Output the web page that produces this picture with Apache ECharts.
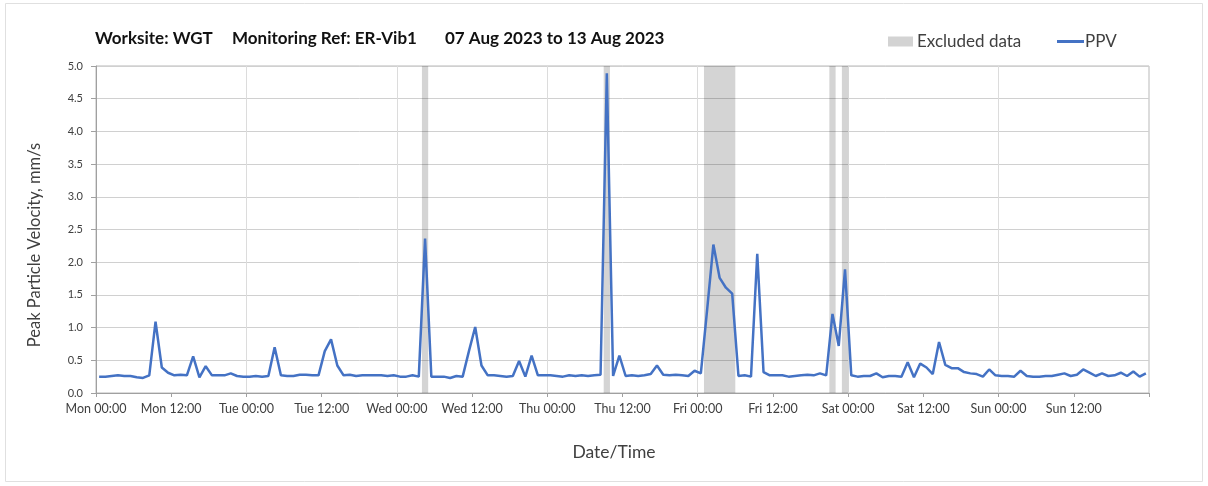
<!DOCTYPE html>
<html>
<head>
<meta charset="utf-8">
<script src="https://cdn.jsdelivr.net/npm/echarts@6/dist/echarts.min.js"></script>
<style>
  html, body { margin: 0; padding: 0; background: #ffffff; }
  #chart { width: 1208px; height: 486px; }
</style>
</head>
<body>
<div id="chart"></div>
<script>
// Hourly PPV readings (mm/s), one array per day, Mon 07 Aug 2023 .. Sun 13 Aug 2023
const monPPV = [0.25,0.25,0.26,0.27,0.26,0.26,0.24,0.23,0.27,1.09,0.39,0.31,0.27,0.28,0.27,0.56,0.24,0.41,0.27,0.27,0.27,0.30,0.26,0.25];
const tuePPV = [0.25,0.26,0.25,0.26,0.70,0.27,0.26,0.26,0.28,0.28,0.27,0.27,0.64,0.82,0.42,0.27,0.28,0.26,0.27,0.27,0.27,0.27,0.26,0.27];
const wedPPV = [0.25,0.25,0.27,0.25,2.36,0.25,0.25,0.25,0.23,0.26,0.25,0.64,1.01,0.42,0.27,0.27,0.26,0.25,0.26,0.49,0.25,0.57,0.27,0.27];
const thuPPV = [0.27,0.26,0.25,0.27,0.26,0.27,0.26,0.27,0.28,4.89,0.26,0.57,0.26,0.27,0.26,0.27,0.29,0.42,0.28,0.27,0.28,0.27,0.26,0.34];
const friPPV = [0.30,1.27,2.27,1.76,1.61,1.52,0.26,0.27,0.25,2.13,0.32,0.27,0.27,0.27,0.25,0.26,0.27,0.28,0.27,0.30,0.27,1.21,0.72,1.89];
const satPPV = [0.27,0.25,0.26,0.26,0.30,0.24,0.26,0.26,0.25,0.47,0.24,0.45,0.39,0.29,0.78,0.43,0.38,0.38,0.32,0.30,0.29,0.25,0.36,0.27];
const sunPPV = [0.26,0.26,0.25,0.34,0.26,0.25,0.25,0.26,0.26,0.28,0.30,0.26,0.28,0.36,0.31,0.26,0.30,0.26,0.27,0.31,0.26,0.33,0.25,0.30];

// Readings are hourly averages, plotted at the middle of each hour (hours since Mon 00:00)
const readingOffsetHours = 0.5;

// Excluded data periods [start, end] in hours since Mon 00:00
const excludedPeriods = [[52,53],[81,82],[97,102],[117,118],[119,120]];

// x-axis tick labels every 12 hours
const tickLabels = ['Mon 00:00','Mon 12:00','Tue 00:00','Tue 12:00','Wed 00:00','Wed 12:00','Thu 00:00','Thu 12:00','Fri 00:00','Fri 12:00','Sat 00:00','Sat 12:00','Sun 00:00','Sun 12:00'];

const titleParts = ['Worksite: WGT','Monitoring Ref: ER-Vib1','07 Aug 2023 to 13 Aug 2023'];

const allPPV = [].concat(monPPV, tuePPV, wedPPV, thuPPV, friPPV, satPPV, sunPPV);
const ppvData = allPPV.map((v, i) => [i + readingOffsetHours, v]);

const FONT = 'Lato';
const TXT = '#404040';
const titleStyle = { fontFamily: FONT, fontWeight: 'bold', fontSize: 17, color: '#111' };

const chart = echarts.init(document.getElementById('chart'));
chart.setOption({
  backgroundColor: '#ffffff',
  animation: false,
  title: [
    { text: titleParts[0], left: 95, top: 30, padding: 0, textStyle: titleStyle },
    { text: titleParts[1], left: 232, top: 30, padding: 0, textStyle: titleStyle },
    { text: titleParts[2], left: 445, top: 30, padding: 0, textStyle: titleStyle }
  ],
  legend: [
    {
      left: 888, top: 33, padding: 0,
      itemWidth: 25, itemHeight: 10,
      textStyle: { fontFamily: FONT, fontSize: 17, color: TXT, padding: [0, 0, 0, -1] },
      data: [ { name: 'Excluded data', icon: 'rect' } ]
    },
    {
      left: 1057, top: 33, padding: 0,
      itemWidth: 27, itemHeight: 3,
      textStyle: { fontFamily: FONT, fontSize: 17, color: TXT, padding: [0, 0, 0, -4] },
      data: [ { name: 'PPV', icon: 'rect', itemStyle: { color: '#4472c4' } } ]
    }
  ],
  grid: {
    left: 96, right: 59, top: 66, bottom: 93,
    show: true, borderColor: '#b8b8b8', borderWidth: 1, backgroundColor: 'transparent'
  },
  xAxis: [
    {
      type: 'value', min: 0, max: 168, interval: 12,
      axisLine: { show: true, onZero: false, lineStyle: { color: '#a0a0a0', width: 1 } },
      axisTick: { show: true, length: 4, lineStyle: { color: '#a0a0a0' } },
      axisLabel: { fontFamily: FONT, fontSize: 12.5, color: TXT, margin: 9,
        formatter: v => tickLabels[Math.round(v / 12)] || '' },
      splitLine: { show: false }
    },
    {
      type: 'value', min: 0, max: 168, interval: 24, position: 'bottom',
      axisLine: { show: false }, axisTick: { show: false }, axisLabel: { show: false },
      splitLine: { show: true, lineStyle: { color: '#dcdcdc', width: 1 } }
    }
  ],
  yAxis: {
    type: 'value', min: 0, max: 5, interval: 0.5,
    axisLine: { show: true, lineStyle: { color: '#a0a0a0', width: 1 } },
    axisTick: { show: true, length: 5, lineStyle: { color: '#a0a0a0' } },
    axisLabel: { fontFamily: FONT, fontSize: 11, color: TXT, margin: 13,
      formatter: v => v.toFixed(1) },
    splitLine: { show: true, lineStyle: { color: '#d0d0d0', width: 1 } }
  },
  graphic: [
    { type: 'rect', shape: { x: 5.5, y: 3.5, width: 1197, height: 478 },
      style: { fill: 'none', stroke: '#e0e0e0', lineWidth: 1 }, silent: true },
    { type: 'text', x: 35, y: 245, rotation: Math.PI / 2,
      style: { text: 'Peak Particle Velocity, mm/s', fontFamily: FONT, fontSize: 16.5, fill: TXT,
        textAlign: 'center', textVerticalAlign: 'middle' } },
    { type: 'text', x: 614, y: 452,
      style: { text: 'Date/Time', fontFamily: FONT, fontSize: 17.5, fill: TXT,
        textAlign: 'center', textVerticalAlign: 'middle' } }
  ],
  series: [
    {
      name: 'Excluded data', type: 'bar', data: [],
      itemStyle: { color: '#d3d3d3' }
    },
    {
      name: 'PPV', type: 'line', xAxisIndex: 0, data: ppvData,
      symbol: 'none', showSymbol: false,
      lineStyle: { color: '#4472c4', width: 2.5 },
      itemStyle: { color: '#4472c4' },
      z: 3,
      markArea: {
        silent: true,
        itemStyle: { color: 'rgba(0,0,0,0.17)' },
        data: excludedPeriods.map(p => [{ xAxis: p[0] }, { xAxis: p[1] }])
      }
    }
  ]
});
</script>
</body>
</html>
